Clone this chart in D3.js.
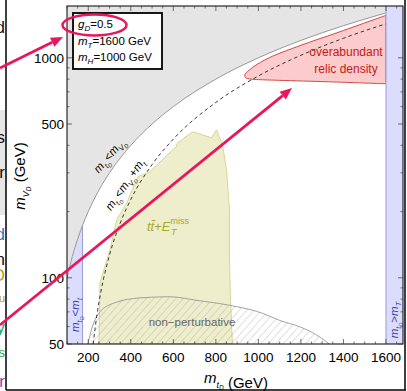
<!DOCTYPE html>
<html><head><meta charset="utf-8">
<script src="https://cdn.jsdelivr.net/npm/d3@7"></script>
<style>body{margin:0;background:#fff}svg{display:block}text{font-family:"Liberation Sans",Arial,sans-serif}</style>
</head><body><svg id="c" width="407" height="391"></svg>
<script>
// ---------- data ----------
const xDomain = [100, 1680];
const yDomain = [50, 1720];
const xTickLabels = [200, 400, 600, 800, 1000, 1200, 1400, 1600];
const xMinorTicks = d3.range(100, 1700, 50);
const yTickLabels = [50, 100, 500, 1000];
const yMinorTicks = [60, 70, 80, 90, 200, 300, 400, 600, 700, 800, 900];

// m_tD = m_VD boundary (gray)
const boundaryVD = [[100,100],[125,125],[150,150],[173,173],[200,200],[250,250],[300,300],[400,400],[500,500],[600,600],[800,800],[1000,1000],[1200,1200],[1400,1400],[1600,1600],[1680,1680]];
// m_tD = m_VD + m_t (dashed)
const dashedVD = [[223,50],[240,67],[260,87],[300,127],[350,177],[400,227],[500,327],[600,427],[800,627],[1000,827],[1200,1027],[1400,1227],[1600,1427],[1680,1507]];
// t tbar + MET exclusion (olive)
const ttbarRegion = [[250,50],[255,95],[302,134],[334,184],[381,219],[433,288],[489,303],[597,382],[611,390],[620,411],[691,461],[780,433],[803,471],[831,403],[850,310],[864,204],[864,121],[869,79],[878,50]];
// non-perturbative region (hatched)
const nonPert = [[198,50],[217,59],[255,70],[325,77],[442,81],[583,82],[709,79],[864,75],[1019,69],[1100,64],[1192,60],[1286,54],[1333,50]];
// overabundant relic density (red)
const relicTop = [[1600,1560],[1370,1300],[1200,1140],[1050,1000],[980,915],[950,868],[936,835]];
const relicBottom = [[940,812],[965,800],[1000,796],[1100,790],[1330,778],[1600,762]];
// blue bands
const leftBand = [[100,50],[100,100],[125,125],[150,150],[173,173],[173,50]];
const rightBand = [[1600,50],[1600,1720],[1680,1720],[1680,50]];

const svg = d3.select("#c");
const x = d3.scaleLinear().domain(xDomain).range([67, 403]);
const y = d3.scaleLog().domain(yDomain).range([344, 6]);
const L = (c) => d3.line().x(d => x(d[0])).y(d => y(d[1])).curve(c || d3.curveLinear);

const defs = svg.append("defs");
defs.append("clipPath").attr("id","pc").append("rect").attr("x",67).attr("y",6).attr("width",336).attr("height",338);
const pat = defs.append("pattern").attr("id","hatch").attr("patternUnits","userSpaceOnUse")
  .attr("width",5.5).attr("height",5.5).attr("patternTransform","rotate(42)");
pat.append("line").attr("x1",0).attr("y1",0).attr("x2",0).attr("y2",5.5).attr("stroke","#9a9a9a").attr("stroke-width",0.6);

// ---- stray neighbouring-panel content on the left ----
svg.append("rect").attr("x",0).attr("y",110).attr("width",6).attr("height",105).attr("fill","#e6e6e6");
const stray = [["d",33,"#111",17],["s",143,"#111",17],["r",178,"#111",17],["d",240,"#1f78c8",17],["n",265,"#111",17],
  ["O",281,"#b89a1c",17],["u",302,"#b89a1c",11],["y",333,"#22a845",17],["s",357,"#22a845",13],["r",387,"#a040b0",17]];
svg.selectAll("text.stray").data(stray).join("text").attr("class","stray")
  .attr("x",5).attr("y",d=>d[1]).attr("text-anchor","end").attr("fill",d=>d[2]).attr("font-size",d=>d[3]).text(d=>d[0]);
svg.append("rect").attr("x",6).attr("y",0).attr("width",401).attr("height",391).attr("fill","#fff");

const g = svg.append("g").attr("clip-path","url(#pc)");
// gray region m_VD > m_tD
const grayPoly = boundaryVD.concat([[1680,1720],[100,1720]]);
g.append("path").attr("d", L(d3.curveMonotoneX)(boundaryVD) + "L" + x(1680) + "," + y(1720) + "L" + x(100) + "," + y(1720) + "Z")
  .attr("fill","#e5e5e5");
// left blue band
g.append("path").attr("d", L(d3.curveMonotoneX)(leftBand.slice(1,5)) + "L" + x(173) + "," + y(50) + "L" + x(100) + "," + y(50) + "Z")
  .attr("fill","#dcdcfc");
g.append("line").attr("x1",x(173)).attr("x2",x(173)).attr("y1",y(173)).attr("y2",y(50)).attr("stroke","#9a9ae0").attr("stroke-width",1);
// olive region
g.append("path").attr("d", L()(ttbarRegion)+"Z").attr("fill","#eeeecc").attr("stroke","#d2d28a").attr("stroke-width",0.9);
// non-perturbative hatched
g.append("path").attr("d", L(d3.curveMonotoneX)(nonPert)+"Z").attr("fill","url(#hatch)").attr("stroke","none");
g.append("path").attr("d", L(d3.curveMonotoneX)(nonPert)).attr("fill","none").attr("stroke","#999").attr("stroke-width",0.9);
// red region
g.append("path").attr("d", L(d3.curveCatmullRom)(relicTop.concat(relicBottom))+"Z").attr("fill","#fccccc").attr("stroke","#d04848").attr("stroke-width",1);
// dashed line
g.append("path").attr("d", L(d3.curveMonotoneX)(dashedVD)).attr("fill","none").attr("stroke","#222").attr("stroke-width",0.9).attr("stroke-dasharray","3.5,3");
// gray boundary line
g.append("path").attr("d", L(d3.curveMonotoneX)(boundaryVD)).attr("fill","none").attr("stroke","#999").attr("stroke-width",1);
// right blue band
g.append("path").attr("d", L()(rightBand)+"Z").attr("fill","#dcdcfc");
g.append("line").attr("x1",x(1600)).attr("x2",x(1600)).attr("y1",y(1720)).attr("y2",y(50)).attr("stroke","#9a9ae0").attr("stroke-width",1);

// ---------- axes ----------
const ax = svg.append("g");
ax.append("rect").attr("x",67).attr("y",6).attr("width",336).attr("height",338).attr("fill","none").attr("stroke","#000").attr("stroke-width",1);
xMinorTicks.forEach(v => {
  const len = xTickLabels.includes(v) ? 5 : 2.5;
  ax.append("line").attr("x1",x(v)).attr("x2",x(v)).attr("y1",344).attr("y2",344-len).attr("stroke","#333").attr("stroke-width",0.7);
  ax.append("line").attr("x1",x(v)).attr("x2",x(v)).attr("y1",6).attr("y2",6+len).attr("stroke","#333").attr("stroke-width",0.7);
});
yTickLabels.concat(yMinorTicks).forEach(v => {
  const len = yTickLabels.includes(v) ? 5 : 2.5;
  ax.append("line").attr("x1",67).attr("x2",67+len).attr("y1",y(v)).attr("y2",y(v)).attr("stroke","#333").attr("stroke-width",0.7);
  ax.append("line").attr("x1",403).attr("x2",403-len).attr("y1",y(v)).attr("y2",y(v)).attr("stroke","#333").attr("stroke-width",0.7);
});
ax.selectAll("text.xt").data(xTickLabels).join("text").attr("class","xt").attr("x",d=>x(d)).attr("y",362)
  .attr("text-anchor","middle").attr("font-size",13.5).text(d=>d);
ax.selectAll("text.yt").data(yTickLabels).join("text").attr("class","yt").attr("x",64).attr("y",d=>y(d)+5)
  .attr("text-anchor","end").attr("font-size",13.5).text(d=>d);

function sub(t, main, s, size, subSize, extra){
  t.append("tspan").attr("font-style","italic").text(main);
  t.append("tspan").attr("font-style","italic").attr("font-size",subSize).attr("dy",size*0.3).text(s);
  const e = t.append("tspan").attr("dy",-size*0.3).text(extra);
  return e;
}
// axis titles
let tx = svg.append("text").attr("x",236).attr("y",383).attr("text-anchor","middle").attr("font-size",15);
sub(tx,"m","t",15,9,"");
tx.select("tspan:nth-child(2)").append("tspan").attr("font-size",6.5).attr("dy",2).text("D");
tx.append("tspan").attr("dy",-2).text(" (GeV)");
let ty = svg.append("text").attr("transform","translate(25,176) rotate(-90)").attr("text-anchor","middle").attr("font-size",15);
ty.append("tspan").attr("font-style","italic").text("m");
ty.append("tspan").attr("font-style","italic").attr("font-size",9).attr("dy",4).text("V");
ty.append("tspan").attr("font-style","italic").attr("font-size",6.5).attr("dy",2).text("D");
ty.append("tspan").attr("dy",-6).text(" (GeV)");

// ---------- region labels ----------
function mtd(t, fs){
  t.append("tspan").attr("font-style","italic").text("m");
  t.append("tspan").attr("font-style","italic").attr("font-size",fs*0.65).attr("dy",fs*0.3).text("t");
  t.append("tspan").attr("font-style","italic").attr("font-size",fs*0.48).attr("dy",fs*0.15).text("D");
  return -fs*0.45;
}
let t1 = svg.append("text").attr("transform","translate(112,158) rotate(-50)").attr("text-anchor","middle").attr("font-size",11.5);
let d1 = mtd(t1,11.5);
t1.append("tspan").attr("dy",d1).text("<");
t1.append("tspan").attr("font-style","italic").text("m");
t1.append("tspan").attr("font-style","italic").attr("font-size",7.5).attr("dy",3.4).text("V");
t1.append("tspan").attr("font-style","italic").attr("font-size",5.5).attr("dy",1.7).text("D");

let t2 = svg.append("text").attr("transform","translate(128,187) rotate(-55)").attr("text-anchor","middle").attr("font-size",11.5);
let d2 = mtd(t2,11.5);
t2.append("tspan").attr("dy",d2).text("<");
t2.append("tspan").attr("font-style","italic").text("m");
t2.append("tspan").attr("font-style","italic").attr("font-size",7.5).attr("dy",3.4).text("V");
t2.append("tspan").attr("font-style","italic").attr("font-size",5.5).attr("dy",1.7).text("D");
t2.append("tspan").attr("dy",-5.1).text("+");
t2.append("tspan").attr("font-style","italic").text("m");
t2.append("tspan").attr("font-style","italic").attr("font-size",7.5).attr("dy",3.4).text("t");

let t3 = svg.append("text").attr("transform","translate(79,315) rotate(-90)").attr("text-anchor","middle").attr("font-size",11.5).attr("fill","#3a3ab0");
let d3b = mtd(t3,11.5);
t3.append("tspan").attr("dy",d3b).text("<");
t3.append("tspan").attr("font-style","italic").text("m");
t3.append("tspan").attr("font-style","italic").attr("font-size",7.5).attr("dy",3.4).text("t");

let t4 = svg.append("text").attr("transform","translate(398,320) rotate(-90)").attr("text-anchor","middle").attr("font-size",11.5).attr("fill","#3a3ab0");
let d4 = mtd(t4,11.5);
t4.append("tspan").attr("dy",d4).text(">");
t4.append("tspan").attr("font-style","italic").text("m");
t4.append("tspan").attr("font-style","italic").attr("font-size",7.5).attr("dy",3.4).text("T");

let t5 = svg.append("text").attr("x",147).attr("y",231).attr("font-size",13).attr("fill","#a8a828");
t5.append("tspan").attr("font-style","italic").text("t t\u0304".replace(" ",""));
t5.append("tspan").text("+");
t5.append("tspan").attr("font-style","italic").text("E");
t5.append("tspan").attr("font-size",9).attr("dy",-7).text("miss");
t5.append("tspan").attr("font-style","italic").attr("font-size",9).attr("x",171).attr("dy",11).text("T");

svg.append("text").attr("x",192).attr("y",326).attr("text-anchor","middle").attr("font-size",11.5).attr("fill","#666").text("non\u2212perturbative");
svg.append("text").attr("x",346).attr("y",56).attr("text-anchor","middle").attr("font-size",12).attr("fill","#c41a1a").text("overabundant");
svg.append("text").attr("x",346).attr("y",73).attr("text-anchor","middle").attr("font-size",12).attr("fill","#c41a1a").text("relic density");

// ---------- legend ----------
svg.append("rect").attr("x",73).attr("y",13).attr("width",89).attr("height",56).attr("fill","#fff").attr("stroke","#000").attr("stroke-width",1.8);
const legendLines = [["g","D","=0.5"],["m","T","=1600 GeV"],["m","H","=1000 GeV"]];
legendLines.forEach((l,i) => {
  const t = svg.append("text").attr("x",78).attr("y",28+i*16.5).attr("font-size",11.5);
  t.append("tspan").attr("font-style","italic").text(l[0]);
  t.append("tspan").attr("font-style","italic").attr("font-size",8).attr("dy",3).text(l[1]);
  t.append("tspan").attr("dy",-3).text(l[2]);
});

// ---------- outer frame ----------
svg.append("line").attr("x1",6).attr("x2",6).attr("y1",0).attr("y2",390).attr("stroke","#000").attr("stroke-width",1.5);
svg.append("line").attr("x1",6).attr("x2",406).attr("y1",390).attr("y2",390).attr("stroke","#000").attr("stroke-width",1.5);
svg.append("line").attr("x1",405).attr("x2",405).attr("y1",0).attr("y2",390).attr("stroke","#000").attr("stroke-width",1.5);

// ---------- pink annotations ----------
const pink = "#e8175d";
svg.append("ellipse").attr("cx",94.5).attr("cy",25).attr("rx",32).attr("ry",10.5).attr("fill","none").attr("stroke",pink).attr("stroke-width",2.5);
function arrow(x0,y0,x1,y1){
  const a = Math.atan2(y1-y0,x1-x0), hl=12, hw=5;
  const bx = x1 - hl*Math.cos(a), by = y1 - hl*Math.sin(a);
  svg.append("line").attr("x1",x0).attr("y1",y0).attr("x2",bx).attr("y2",by).attr("stroke",pink).attr("stroke-width",2.8);
  const p = [[x1,y1],[bx - hw*Math.sin(a), by + hw*Math.cos(a)],[bx + hw*Math.sin(a), by - hw*Math.cos(a)]];
  svg.append("polygon").attr("points",p.map(q=>q.join(",")).join(" ")).attr("fill",pink);
}
arrow(0,68,63,37);
arrow(0,325,292,88);
</script></body></html>
